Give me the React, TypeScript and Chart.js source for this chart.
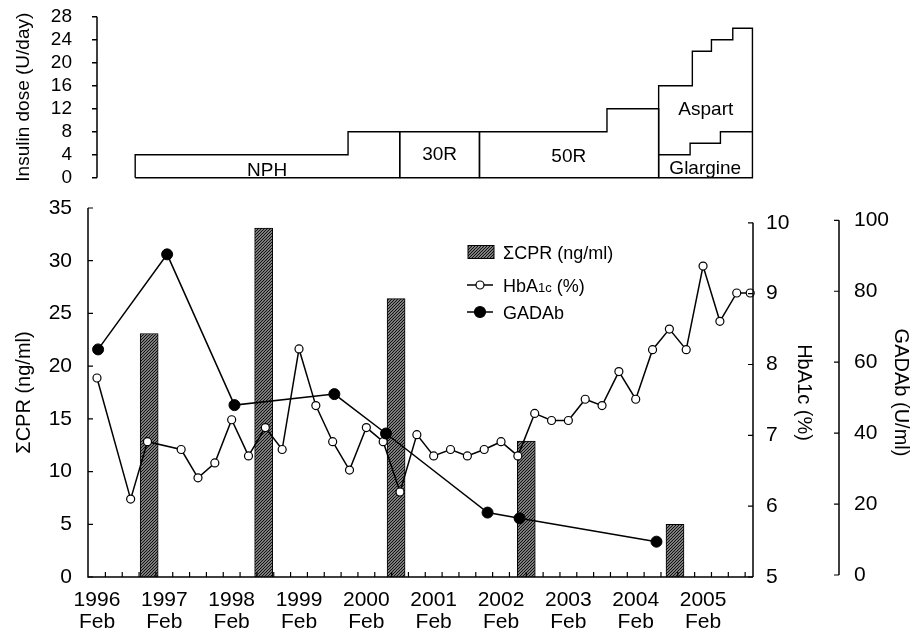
import React, { useEffect, useRef } from 'react';
import { Chart, registerables } from 'chart.js';

Chart.register(...registerables);

const FONT = "'Liberation Sans', Arial, Helvetica, sans-serif";

// ---- x axis: months after February 1996 ----
const yearLabels = ['1996', '1997', '1998', '1999', '2000', '2001', '2002', '2003', '2004', '2005'];
const yearMonths = [0, 12, 24, 36, 48, 60, 72, 84, 96, 108];
const monthLabel = 'Feb';
const xMin = -1.6;
const xMax = 116.9;

// ---- ΣCPR (bars) ----
const cprMonths = [9.3, 29.7, 53.3, 76.5, 103];
const cprValues = [23.1, 33.1, 26.4, 12.9, 5.0];
const cprTicks = [0, 5, 10, 15, 20, 25, 30, 35];

// ---- HbA1c (%) ----
const hbMonths = [0, 6, 9, 15, 18, 21, 24, 27, 30, 33, 36, 39, 42, 45, 48, 51, 54, 57, 60, 63,
  66, 69, 72, 75, 78, 81, 84, 87, 90, 93, 96, 99, 102, 105, 108, 111, 114, 116.4];
const hbValues = [7.81, 6.10, 6.91, 6.80, 6.40, 6.61, 7.22, 6.71, 7.11, 6.80, 8.22, 7.42, 6.91, 6.51, 7.11, 6.91, 6.20, 7.01, 6.71, 6.80,
  6.71, 6.80, 6.91, 6.71, 7.31, 7.21, 7.21, 7.51, 7.42, 7.90, 7.51, 8.21, 8.50, 8.21, 9.39, 8.61, 9.01, 9.01];
const hbTicks = [5, 6, 7, 8, 9, 10];

// ---- GADAb (U/ml) ----
const gadMonths = [0.2, 12.5, 24.5, 42.3, 51.5, 69.6, 75.3, 99.7];
const gadValues = [63.6, 90.4, 47.9, 51.0, 39.9, 17.6, 16.0, 9.4];
const gadTicks = [0, 20, 40, 60, 80, 100];

// ---- Insulin dose (U/day) ----
const insulinTicks = [0, 4, 8, 12, 16, 20, 24, 28];
const insulinNames = ['NPH', '30R', '50R', 'Aspart', 'Glargine'];
const insulinStarts = [[6.8, 44.7], [53.9], [68.1, 90.8], [100, 106, 109.4, 113.2], [100, 105.6, 111]];
const insulinDoses = [[4, 8], [8], [8, 12], [16, 22, 24, 26], [4, 6, 8]];
const insulinEnds = [53.9, 68.1, 100, 116.7, 116.7];
const insulinClosed = [true, true, true, true, false];
const insulinLabelMonth = [30.3, 61, 84, 108.4, 108.3];
const insulinLabelDose = [1.2, 3.95, 3.65, 11.8, 1.6];

function outline(starts: number[], doses: number[], end: number, closed: boolean) {
  const pts: { x: number; y: number }[] = [];
  if (closed) pts.push({ x: starts[0], y: 0 });
  starts.forEach((s, i) => {
    const next = i + 1 < starts.length ? starts[i + 1] : end;
    pts.push({ x: s, y: doses[i] });
    pts.push({ x: next, y: doses[i] });
  });
  if (closed) {
    pts.push({ x: end, y: 0 });
    pts.push({ x: starts[0], y: 0 });
  }
  return pts;
}

function makeHatch(): CanvasPattern | string {
  const c = document.createElement('canvas');
  c.width = 3;
  c.height = 3;
  const g = c.getContext('2d');
  if (!g) return '#888';
  g.fillStyle = '#d4d4d4';
  g.fillRect(0, 0, 3, 3);
  g.strokeStyle = '#111';
  g.lineWidth = 1.3;
  g.beginPath();
  g.moveTo(-1, 4); g.lineTo(4, -1);
  g.moveTo(-1, 1); g.lineTo(1, -1);
  g.moveTo(2, 4); g.lineTo(4, 2);
  g.stroke();
  const p = g.createPattern(c, 'repeat');
  return p || '#888';
}

function noPad(s: any) {
  s.paddingTop = 0;
  s.paddingBottom = 0;
  s.paddingLeft = 0;
  s.paddingRight = 0;
}

const topPlugin = {
  id: 'topAxis',
  afterDraw(chart: any) {
    const { ctx, chartArea: a, scales } = chart;
    const y = scales.y;
    const x = scales.x;
    ctx.save();
    ctx.strokeStyle = '#000';
    ctx.lineWidth = 1.5;
    ctx.beginPath();
    ctx.moveTo(a.left, y.getPixelForValue(insulinTicks[insulinTicks.length - 1]));
    ctx.lineTo(a.left, y.getPixelForValue(insulinTicks[0]));
    insulinTicks.forEach((t) => {
      const py = y.getPixelForValue(t);
      ctx.moveTo(a.left - 5, py);
      ctx.lineTo(a.left, py);
    });
    ctx.stroke();
    ctx.fillStyle = '#000';
    ctx.font = `19px ${FONT}`;
    ctx.textAlign = 'center';
    ctx.textBaseline = 'middle';
    insulinNames.forEach((n, i) => {
      ctx.fillText(n, x.getPixelForValue(insulinLabelMonth[i]), y.getPixelForValue(insulinLabelDose[i]));
    });
    ctx.restore();
  },
};

const bottomPlugin = {
  id: 'bottomAxes',
  afterDraw(chart: any) {
    const { ctx, chartArea: a, scales } = chart;
    const x = scales.x, yc = scales.yCpr, yh = scales.yHb, yg = scales.yGad;
    ctx.save();
    ctx.strokeStyle = '#000';
    ctx.lineWidth = 1.5;
    ctx.beginPath();
    ctx.moveTo(a.left, a.top);
    ctx.lineTo(a.left, a.bottom);
    ctx.lineTo(a.right, a.bottom);
    ctx.moveTo(yh.left, yh.getPixelForValue(hbTicks[hbTicks.length - 1]));
    ctx.lineTo(yh.left, yh.getPixelForValue(hbTicks[0]));
    ctx.moveTo(yg.left, yg.getPixelForValue(gadTicks[gadTicks.length - 1]));
    ctx.lineTo(yg.left, yg.getPixelForValue(gadTicks[0]));
    ctx.stroke();
    ctx.lineWidth = 1.2;
    ctx.beginPath();
    cprTicks.forEach((t) => {
      const py = yc.getPixelForValue(t);
      ctx.moveTo(a.left, py); ctx.lineTo(a.left + 5, py);
    });
    hbTicks.forEach((t) => {
      const py = yh.getPixelForValue(t);
      ctx.moveTo(yh.left - 5, py); ctx.lineTo(yh.left, py);
    });
    gadTicks.forEach((t) => {
      const py = yg.getPixelForValue(t);
      ctx.moveTo(yg.left - 5, py); ctx.lineTo(yg.left, py);
    });
    for (let m = 1.5; m < x.max; m += 3) {
      const px = x.getPixelForValue(m);
      ctx.moveTo(px, a.bottom - 5); ctx.lineTo(px, a.bottom);
    }
    ctx.stroke();

    // legend
    const ds = chart.data.datasets;
    const lx = a.left + 380;
    const rows = [a.top + 44, a.top + 77, a.top + 104];
    [0, 1, 2].forEach((di, r) => {
      const d = ds[di];
      const cy = rows[r];
      if (d.type === 'bar') {
        ctx.fillStyle = d.backgroundColor;
        ctx.fillRect(lx, cy - 6.5, 26, 13);
        ctx.lineWidth = 1;
        ctx.strokeStyle = '#000';
        ctx.strokeRect(lx, cy - 6.5, 26, 13);
      } else {
        ctx.strokeStyle = d.borderColor;
        ctx.lineWidth = 1.5;
        ctx.beginPath();
        ctx.moveTo(lx - 1, cy); ctx.lineTo(lx + 25, cy);
        ctx.stroke();
        ctx.beginPath();
        ctx.arc(lx + 12, cy, d.pointRadius, 0, Math.PI * 2);
        ctx.fillStyle = d.pointBackgroundColor;
        ctx.fill();
        ctx.lineWidth = 1.2;
        ctx.stroke();
      }
      ctx.fillStyle = '#000';
      ctx.textAlign = 'left';
      ctx.textBaseline = 'alphabetic';
      const label: string = d.label;
      const m = label.match(/^(HbA)(1c)(.*)$/);
      const base = cy + 6.5;
      if (m) {
        let tx = lx + 35;
        ctx.font = `18px ${FONT}`;
        ctx.fillText(m[1], tx, base);
        tx += ctx.measureText(m[1]).width;
        ctx.font = `13px ${FONT}`;
        ctx.fillText(m[2], tx, base);
        tx += ctx.measureText(m[2]).width;
        ctx.font = `18px ${FONT}`;
        ctx.fillText(m[3], tx, base);
      } else {
        ctx.font = `18px ${FONT}`;
        ctx.fillText(label, lx + 35, base);
      }
    });
    ctx.restore();
  },
};

export default function App() {
  const topRef = useRef<HTMLCanvasElement>(null);
  const botRef = useRef<HTMLCanvasElement>(null);

  useEffect(() => {
    const hatch = makeHatch();

    const top = new Chart(topRef.current as HTMLCanvasElement, {
      type: 'line',
      data: {
        datasets: insulinNames.map((n, i) => ({
          label: n,
          data: outline(insulinStarts[i], insulinDoses[i], insulinEnds[i], insulinClosed[i]),
          borderColor: '#000',
          borderWidth: 1.4,
          pointRadius: 0,
          fill: false,
          tension: 0,
          clip: false as any,
        })),
      },
      options: {
        responsive: false,
        animation: false,
        events: [],
        layout: { autoPadding: false, padding: { top: 16.7, bottom: 12.3, left: 0, right: 160 } },
        plugins: { legend: { display: false }, tooltip: { enabled: false } },
        scales: {
          x: { type: 'linear', display: false, min: 0, max: xMax - 0.1, afterFit: noPad },
          y: {
            type: 'linear',
            position: 'left',
            min: 0,
            max: 28,
            afterBuildTicks: (s: any) => { s.ticks = insulinTicks.map((v) => ({ value: v })); },
            afterFit: (s: any) => { s.width = 97; noPad(s); },
            grid: { display: false, drawTicks: false },
            border: { display: false },
            ticks: { color: '#000', padding: 25, autoSkip: false, font: { family: FONT, size: 19 }, callback: (v: any) => String(v) },
            title: {
              display: true,
              text: 'Insulin dose (U/day)',
              color: '#000',
              font: { family: FONT, size: 19 },
              padding: { top: 12, bottom: 0 },
            },
          },
        },
      },
      plugins: [topPlugin],
    } as any);

    const bot = new Chart(botRef.current as HTMLCanvasElement, {
      type: 'line',
      data: {
        datasets: [
          {
            type: 'bar',
            label: 'ΣCPR (ng/ml)',
            data: cprMonths.map((m, i) => ({ x: m, y: cprValues[i] })),
            backgroundColor: hatch,
            borderColor: '#000',
            borderWidth: 1,
            barThickness: 18,
            yAxisID: 'yCpr',
            order: 3,
          },
          {
            type: 'line',
            label: 'HbA1c (%)',
            data: hbMonths.map((m, i) => ({ x: m, y: hbValues[i] })),
            borderColor: '#000',
            borderWidth: 1.5,
            pointRadius: 4,
            pointBackgroundColor: '#fff',
            pointBorderColor: '#000',
            pointBorderWidth: 1.2,
            tension: 0,
            fill: false,
            clip: false,
            yAxisID: 'yHb',
            order: 2,
          },
          {
            type: 'line',
            label: 'GADAb',
            data: gadMonths.map((m, i) => ({ x: m, y: gadValues[i] })),
            borderColor: '#000',
            borderWidth: 1.5,
            pointRadius: 5.5,
            pointBackgroundColor: '#000',
            pointBorderColor: '#000',
            pointBorderWidth: 1,
            tension: 0,
            fill: false,
            clip: false,
            yAxisID: 'yGad',
            order: 1,
          },
        ],
      },
      options: {
        responsive: false,
        animation: false,
        events: [],
        layout: { autoPadding: false, padding: { top: 18, bottom: 0, left: 0, right: 0 } },
        plugins: { legend: { display: false }, tooltip: { enabled: false } },
        scales: {
          x: {
            type: 'linear',
            position: 'bottom',
            min: xMin,
            max: xMax,
            offset: false,
            afterBuildTicks: (s: any) => { s.ticks = yearMonths.map((v) => ({ value: v })); },
            afterFit: (s: any) => { s.height = 58; noPad(s); },
            grid: { display: false, drawTicks: false },
            border: { display: false },
            ticks: {
              color: '#000',
              padding: 12,
              autoSkip: false,
              maxRotation: 0,
              minRotation: 0,
              font: { family: FONT, size: 21, lineHeight: 1.05 },
              callback: (_v: any, i: number) => [yearLabels[i], monthLabel],
            },
          },
          yCpr: {
            type: 'linear',
            position: 'left',
            min: 0,
            max: 35,
            afterBuildTicks: (s: any) => { s.ticks = cprTicks.map((v) => ({ value: v })); },
            afterFit: (s: any) => { s.width = 88; noPad(s); },
            grid: { display: false, drawTicks: false },
            border: { display: false },
            ticks: { color: '#000', padding: 16, autoSkip: false, font: { family: FONT, size: 21 }, callback: (v: any) => String(v) },
            title: {
              display: true,
              text: 'ΣCPR (ng/ml)',
              color: '#000',
              font: { family: FONT, size: 20 },
              padding: { top: 12, bottom: 0 },
            },
          },
          yHb: {
            type: 'linear',
            position: 'right',
            weight: 0,
            min: 5,
            max: 10.21,
            afterBuildTicks: (s: any) => { s.ticks = hbTicks.map((v) => ({ value: v })); },
            afterFit: (s: any) => { s.width = 86; noPad(s); },
            grid: { display: false, drawTicks: false },
            border: { display: false },
            ticks: { color: '#000', padding: 13, autoSkip: false, font: { family: FONT, size: 21 }, callback: (v: any) => String(v) },
            title: {
              display: true,
              text: 'HbA1c (%)',
              color: '#000',
              font: { family: FONT, size: 20 },
              padding: { top: 23, bottom: 0 },
            },
          },
          yGad: {
            type: 'linear',
            position: 'right',
            weight: 1,
            min: -0.56,
            max: 103.47,
            afterBuildTicks: (s: any) => { s.ticks = gadTicks.map((v) => ({ value: v })); },
            afterFit: (s: any) => { s.width = 74; noPad(s); },
            grid: { display: false, drawTicks: false },
            border: { display: false },
            ticks: { color: '#000', padding: 15, autoSkip: false, font: { family: FONT, size: 21 }, callback: (v: any) => String(v) },
            title: {
              display: true,
              text: 'GADAb (U/ml)',
              color: '#000',
              font: { family: FONT, size: 20 },
              padding: { top: 0, bottom: 0 },
            },
          },
        },
      },
      plugins: [bottomPlugin],
    } as any);

    return () => {
      top.destroy();
      bot.destroy();
    };
  }, []);

  return (
    <div style={{ position: 'absolute', left: 0, top: 0, width: 913, height: 635, background: '#fff', overflow: 'hidden' }}>
      <canvas ref={topRef} width={913} height={190} style={{ position: 'absolute', left: 0, top: 0 }} />
      <canvas ref={botRef} width={913} height={445} style={{ position: 'absolute', left: 0, top: 190 }} />
    </div>
  );
}
